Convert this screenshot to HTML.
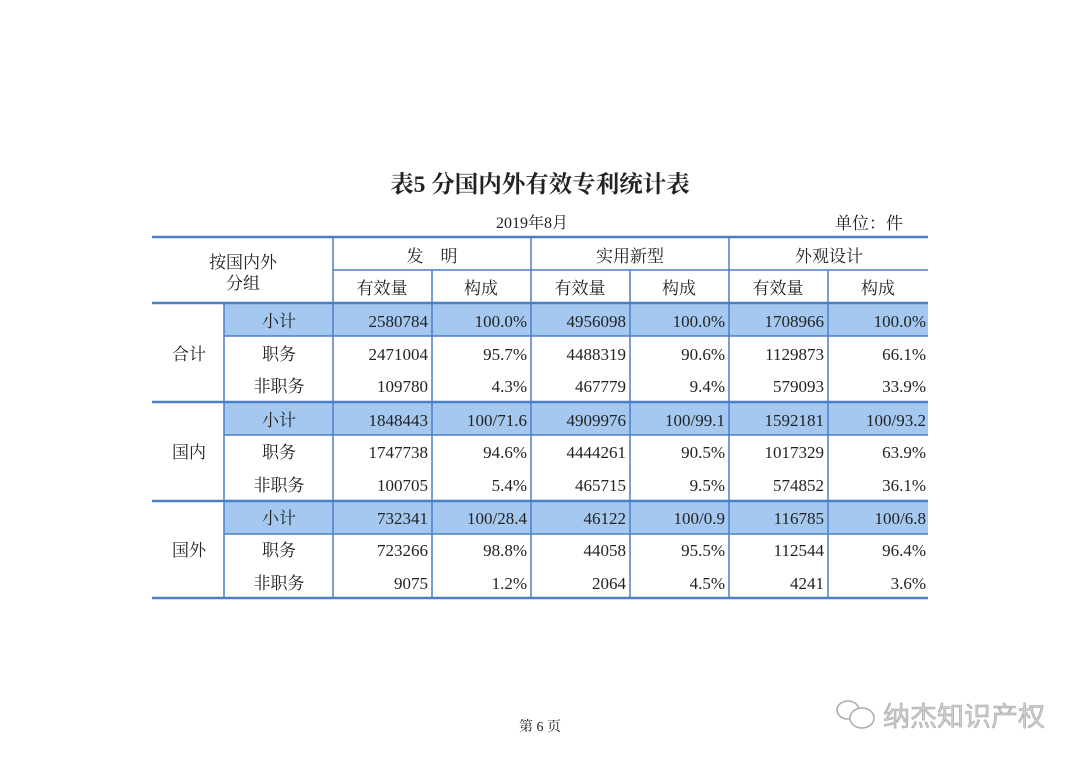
<!DOCTYPE html>
<html><head><meta charset="utf-8"><style>
body{margin:0;background:#fff;}
svg text{font-family:"Liberation Serif","Noto Serif CJK SC",serif;fill:#222;}
</style></head><body>
<svg width="1080" height="763" xmlns="http://www.w3.org/2000/svg">
<rect width="1080" height="763" fill="#fff"/>
<text x="540" y="192" font-size="23.5" font-weight="bold" text-anchor="middle" fill="#111">表5  分国内外有效专利统计表</text>
<text x="532" y="228" font-size="16" text-anchor="middle">2019年8月</text>
<text x="903" y="229" font-size="17" text-anchor="end">单位：件</text>
<g fill="#a5c8f0">
<rect x="224" y="304" width="704" height="32"/>
<rect x="224" y="403" width="704" height="32"/>
<rect x="224" y="502" width="704" height="32"/>
</g>
<g stroke="#4d7fc6" fill="none">
<line x1="152" y1="237" x2="928" y2="237" stroke-width="2.5"/>
<line x1="333" y1="270" x2="928" y2="270" stroke-width="1.5"/>
<line x1="152" y1="303" x2="928" y2="303" stroke-width="2.5"/>
<line x1="224" y1="336" x2="928" y2="336" stroke-width="1.5"/>
<line x1="152" y1="402" x2="928" y2="402" stroke-width="2.5"/>
<line x1="224" y1="435" x2="928" y2="435" stroke-width="1.5"/>
<line x1="152" y1="501" x2="928" y2="501" stroke-width="2.5"/>
<line x1="224" y1="534" x2="928" y2="534" stroke-width="1.5"/>
<line x1="152" y1="598" x2="928" y2="598" stroke-width="2.5"/>
<line x1="224" y1="303" x2="224" y2="598" stroke-width="1.5"/>
<line x1="333" y1="237" x2="333" y2="598" stroke-width="1.5"/>
<line x1="531" y1="237" x2="531" y2="598" stroke-width="1.5"/>
<line x1="729" y1="237" x2="729" y2="598" stroke-width="1.5"/>
<line x1="432" y1="270" x2="432" y2="598" stroke-width="1.5"/>
<line x1="630" y1="270" x2="630" y2="598" stroke-width="1.5"/>
<line x1="828" y1="270" x2="828" y2="598" stroke-width="1.5"/>
</g>
<g font-size="17" text-anchor="middle">
<text x="243" y="268">按国内外</text>
<text x="243" y="289">分组</text>
<text x="432" y="262">发　明</text>
<text x="630" y="262">实用新型</text>
<text x="829" y="262">外观设计</text>
<text x="382" y="294">有效量</text><text x="481" y="294">构成</text>
<text x="580" y="294">有效量</text><text x="679" y="294">构成</text>
<text x="778" y="294">有效量</text><text x="878" y="294">构成</text>
<text x="189" y="360">合计</text>
<text x="189" y="458">国内</text>
<text x="189" y="556">国外</text>
<text x="279" y="327">小计</text><text x="279" y="360">职务</text><text x="279" y="392">非职务</text>
<text x="279" y="426">小计</text><text x="279" y="458">职务</text><text x="279" y="491">非职务</text>
<text x="279" y="524">小计</text><text x="279" y="556">职务</text><text x="279" y="589">非职务</text>
</g>
<g font-size="17" text-anchor="end">
<text x="428" y="327">2580784</text><text x="527" y="327">100.0%</text><text x="626" y="327">4956098</text><text x="725" y="327">100.0%</text><text x="824" y="327">1708966</text><text x="926" y="327">100.0%</text>
<text x="428" y="360">2471004</text><text x="527" y="360">95.7%</text><text x="626" y="360">4488319</text><text x="725" y="360">90.6%</text><text x="824" y="360">1129873</text><text x="926" y="360">66.1%</text>
<text x="428" y="392">109780</text><text x="527" y="392">4.3%</text><text x="626" y="392">467779</text><text x="725" y="392">9.4%</text><text x="824" y="392">579093</text><text x="926" y="392">33.9%</text>
<text x="428" y="426">1848443</text><text x="527" y="426">100/71.6</text><text x="626" y="426">4909976</text><text x="725" y="426">100/99.1</text><text x="824" y="426">1592181</text><text x="926" y="426">100/93.2</text>
<text x="428" y="458">1747738</text><text x="527" y="458">94.6%</text><text x="626" y="458">4444261</text><text x="725" y="458">90.5%</text><text x="824" y="458">1017329</text><text x="926" y="458">63.9%</text>
<text x="428" y="491">100705</text><text x="527" y="491">5.4%</text><text x="626" y="491">465715</text><text x="725" y="491">9.5%</text><text x="824" y="491">574852</text><text x="926" y="491">36.1%</text>
<text x="428" y="524">732341</text><text x="527" y="524">100/28.4</text><text x="626" y="524">46122</text><text x="725" y="524">100/0.9</text><text x="824" y="524">116785</text><text x="926" y="524">100/6.8</text>
<text x="428" y="556">723266</text><text x="527" y="556">98.8%</text><text x="626" y="556">44058</text><text x="725" y="556">95.5%</text><text x="824" y="556">112544</text><text x="926" y="556">96.4%</text>
<text x="428" y="589">9075</text><text x="527" y="589">1.2%</text><text x="626" y="589">2064</text><text x="725" y="589">4.5%</text><text x="824" y="589">4241</text><text x="926" y="589">3.6%</text>
</g>
<text x="540" y="731" font-size="14" text-anchor="middle">第 6 页</text>
<g stroke="#aaa" fill="#fff" stroke-width="1.5">
<ellipse cx="848" cy="710" rx="11" ry="9"/>
<ellipse cx="862" cy="718" rx="12" ry="10"/>
</g>
<text x="883" y="726" font-size="27" textLength="162" style="font-family:'Noto Sans CJK SC',sans-serif;fill:#d0d0d0" stroke="#999" stroke-width="0.5">纳杰知识产权</text>
</svg>
</body></html>
